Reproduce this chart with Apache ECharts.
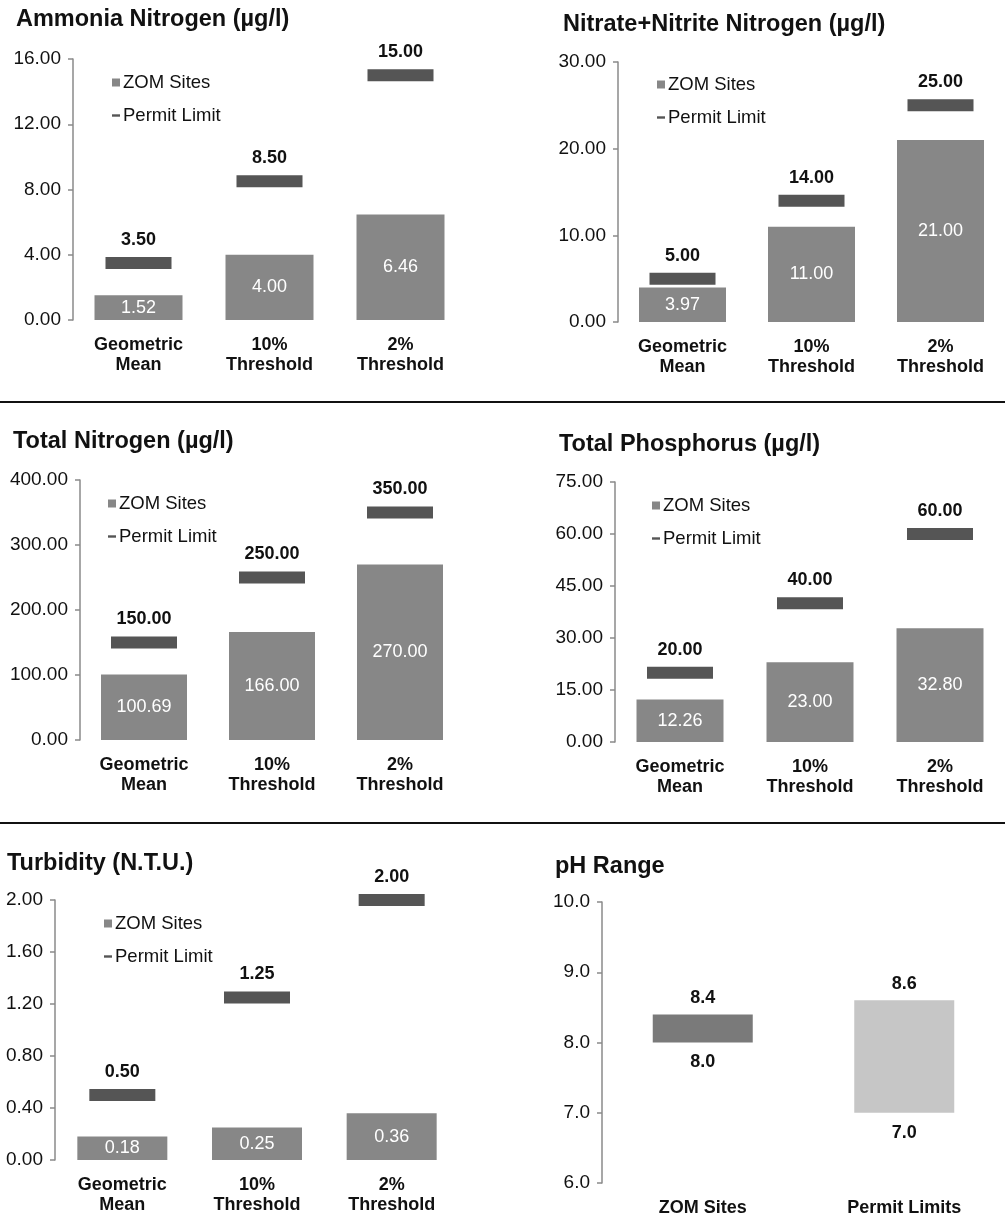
<!DOCTYPE html>
<html>
<head>
<meta charset="utf-8">
<script src="https://cdn.jsdelivr.net/npm/echarts@6/dist/echarts.min.js"></script>
<style>
html,body{margin:0;padding:0;background:#fff;}
#c{width:1005px;height:1218px;}
</style>
</head>
<body>
<div id="c"></div>
<script>
// ---- data ----
const categories = ['Geometric\nMean', '10%\nThreshold', '2%\nThreshold'];

const ammoniaZom = [1.52, 4.00, 6.46];
const ammoniaPermit = [3.50, 8.50, 15.00];

const nitrateZom = [3.97, 11.00, 21.00];
const nitratePermit = [5.00, 14.00, 25.00];

const totalNZom = [100.69, 166.00, 270.00];
const totalNPermit = [150.00, 250.00, 350.00];

const totalPZom = [12.26, 23.00, 32.80];
const totalPPermit = [20.00, 40.00, 60.00];

const turbidityZom = [0.18, 0.25, 0.36];
const turbidityPermit = [0.50, 1.25, 2.00];

const phCategories = ['ZOM Sites', 'Permit Limits'];
const phLow = [8.0, 7.0];
const phHigh = [8.4, 8.6];

const titles = ['Ammonia Nitrogen (µg/l)', 'Nitrate+Nitrite Nitrogen (µg/l)', 'Total Nitrogen (µg/l)',
  'Total Phosphorus (µg/l)', 'Turbidity (N.T.U.)', 'pH Range'];

// ---- layout (style only) ----
const FONT = "'Liberation Sans', Arial, sans-serif";
const ZOM_COLOR = '#878787';
const PERMIT_COLOR = '#555555';
const TITLE_STYLE = {fontSize: 23.5, fontWeight: 'bold', color: '#111', fontFamily: FONT};

const panels = [
  {zom: ammoniaZom, permit: ammoniaPermit, min: 0, max: 16, interval: 4,
   grid: {left: 73, top: 59, width: 393, height: 261}, title: {left: 16, top: 8},
   legend: {left: 107, top: 68}, barWidth: 88},
  {zom: nitrateZom, permit: nitratePermit, min: 0, max: 30, interval: 10,
   grid: {left: 618, top: 62, width: 395, height: 260}, title: {left: 563, top: 13},
   legend: {left: 652, top: 70}, barWidth: 87},
  {zom: totalNZom, permit: totalNPermit, min: 0, max: 400, interval: 100,
   grid: {left: 80, top: 480, width: 384, height: 260}, title: {left: 13, top: 430},
   legend: {left: 103, top: 489}, barWidth: 86},
  {zom: totalPZom, permit: totalPPermit, min: 0, max: 75, interval: 15,
   grid: {left: 615, top: 482, width: 395, height: 260}, title: {left: 559, top: 433},
   legend: {left: 647, top: 491}, barWidth: 87},
  {zom: turbidityZom, permit: turbidityPermit, min: 0, max: 2, interval: 0.4,
   grid: {left: 55, top: 900, width: 404, height: 260}, title: {left: 7, top: 852},
   legend: {left: 99, top: 909}, barWidth: 90}
];

const option = {
  backgroundColor: '#ffffff',
  animation: false,
  title: [], legend: [], grid: [], xAxis: [], yAxis: [], series: [],
  graphic: [
    {type: 'line', shape: {x1: 0, y1: 402, x2: 1005, y2: 402}, style: {stroke: '#111', lineWidth: 2}},
    {type: 'line', shape: {x1: 0, y1: 823, x2: 1005, y2: 823}, style: {stroke: '#111', lineWidth: 2}}
  ]
};

function yAxisDef(i, min, max, interval, decimals) {
  return {
    type: 'value', gridIndex: i, min: min, max: max, interval: interval,
    axisLine: {show: true, lineStyle: {color: '#8a8a8a', width: 1.5}},
    axisTick: {show: true, length: 5, lineStyle: {color: '#8a8a8a', width: 1.5}},
    splitLine: {show: false},
    axisLabel: {color: '#111', fontSize: 19, fontFamily: FONT, margin: 12,
      formatter: v => v.toFixed(decimals)}
  };
}

function xAxisDef(i, cats) {
  return {
    type: 'category', gridIndex: i, data: cats,
    axisLine: {show: false}, axisTick: {show: false},
    axisLabel: {color: '#111', fontSize: 18, fontWeight: 'bold', fontFamily: FONT,
      margin: 15, lineHeight: 20, interval: 0}
  };
}

panels.forEach((p, i) => {
  option.title.push({text: titles[i], left: p.title.left, top: p.title.top, padding: 0,
    textStyle: TITLE_STYLE});
  option.grid.push(Object.assign({}, p.grid));
  option.xAxis.push(xAxisDef(i, categories));
  option.yAxis.push(yAxisDef(i, p.min, p.max, p.interval, 2));
  const zomName = 'ZOM Sites', permitName = 'Permit Limit';
  option.legend.push({
    left: p.legend.left, top: p.legend.top, orient: 'vertical', itemGap: 14,
    itemWidth: 8, itemHeight: 8, selectedMode: false,
    textStyle: {fontSize: 18.5, color: '#111', fontFamily: FONT, padding: [0, 0, 0, -2]},
    data: [
      {name: zomName + '#' + i, icon: 'rect'},
      {name: permitName + '#' + i, icon: 'path://M0,0L10,0L10,3L0,3Z'}
    ],
    formatter: n => n.split('#')[0]
  });
  option.series.push({
    name: zomName + '#' + i, type: 'bar', xAxisIndex: i, yAxisIndex: i,
    data: p.zom, barWidth: p.barWidth,
    itemStyle: {color: ZOM_COLOR},
    label: {show: true, position: 'inside', color: '#fff', fontSize: 18, fontFamily: FONT,
      formatter: d => d.value.toFixed(2)}
  });
  option.series.push({
    name: permitName + '#' + i, type: 'scatter', xAxisIndex: i, yAxisIndex: i,
    data: p.permit, symbol: 'rect', symbolSize: [66, 12], z: 3,
    itemStyle: {color: PERMIT_COLOR, opacity: 1},
    label: {show: true, position: 'top', distance: 8, color: '#111', fontSize: 18,
      fontWeight: 'bold', fontFamily: FONT, formatter: d => d.value.toFixed(2)}
  });
});

// ---- pH panel ----
const pi = 5;
option.title.push({text: titles[5], left: 555, top: 855, padding: 0, textStyle: TITLE_STYLE});
option.grid.push({left: 602, top: 902, width: 407, height: 282});
option.xAxis.push(xAxisDef(pi, phCategories));
option.yAxis.push(yAxisDef(pi, 6, 10, 1, 1));
option.series.push({
  name: 'phBase', type: 'bar', xAxisIndex: pi, yAxisIndex: pi, stack: 'ph',
  data: phLow, barWidth: 100,
  itemStyle: {color: 'rgba(0,0,0,0)'},
  label: {show: true, position: 'insideTop', distance: 11, color: '#111', fontSize: 18,
    fontWeight: 'bold', fontFamily: FONT, formatter: d => d.value.toFixed(1)}
});
option.series.push({
  name: 'phRange', type: 'bar', xAxisIndex: pi, yAxisIndex: pi, stack: 'ph',
  data: phHigh.map((h, k) => ({
    value: +(h - phLow[k]).toFixed(2),
    itemStyle: {color: k === 0 ? '#7a7a7a' : '#c6c6c6'}
  })),
  barWidth: 100,
  label: {show: true, position: 'top', distance: 7, color: '#111', fontSize: 18,
    fontWeight: 'bold', fontFamily: FONT, formatter: d => phHigh[d.dataIndex].toFixed(1)}
});

const chart = echarts.init(document.getElementById('c'), null, {renderer: 'canvas'});
chart.setOption(option);
</script>
</body>
</html>
